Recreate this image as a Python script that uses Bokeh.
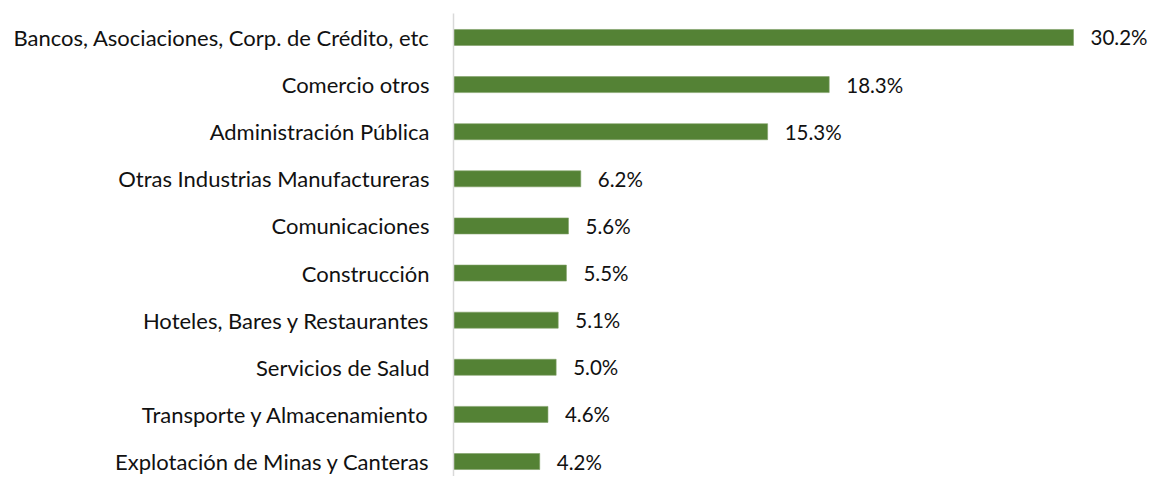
from bokeh.plotting import figure
from bokeh.models import ColumnDataSource, Range1d, FixedTicker
from bokeh.core.properties import value
from bokeh.embed import file_html
from bokeh.resources import INLINE

categories = [
    "Bancos, Asociaciones, Corp. de Crédito, etc",
    "Comercio otros",
    "Administración Pública",
    "Otras Industrias Manufactureras",
    "Comunicaciones",
    "Construcción",
    "Hoteles, Bares y Restaurantes",
    "Servicios de Salud",
    "Transporte y Almacenamiento",
    "Explotación de Minas y Canteras",
]
values = [30.2, 18.3, 15.3, 6.2, 5.6, 5.5, 5.1, 5.0, 4.6, 4.2]
value_labels = [f"{v:.1f}%" for v in values]

idx = list(range(len(categories)))
src = ColumnDataSource(dict(y=idx, v=values, lab=value_labels,
                            lx=[v + 0.83 for v in values]))

FONT = "Lato"

p = figure(width=1150, height=476, output_backend="svg", toolbar_location=None,
           x_range=Range1d(0, 33.95), y_range=Range1d(9.318, -0.509),
           min_border_left=453, min_border_right=0, min_border_top=13,
           min_border_bottom=0)
p.outline_line_color = None
p.grid.visible = False
p.xaxis.visible = False

p.hbar(y="y", right="v", left=0, height=0.34, source=src,
       fill_color="#548235", line_color="#7fa067", line_width=0.6)
p.text(x="lx", y="y", text="lab", source=src, text_font=value(FONT),
       text_font_size="20.5px", text_baseline="middle", text_align="left",
       text_color="#111111")

ya = p.yaxis[0]
ya.ticker = FixedTicker(ticks=idx)
ya.major_label_overrides = {i: c for i, c in zip(idx, categories)}
ya.major_label_text_font = FONT
ya.major_label_text_font_size = "22px"
ya.major_label_text_color = "#111111"
ya.major_tick_out = 0
ya.major_tick_in = 0
ya.minor_tick_out = 0
ya.minor_tick_in = 0
ya.major_label_standoff = 24
ya.axis_line_color = "#d9d9d9"
ya.axis_line_width = 1.5

open("out.html", "w").write(file_html(p, INLINE))
